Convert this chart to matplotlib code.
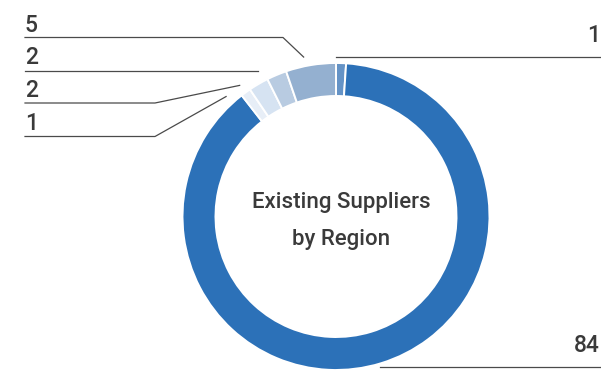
import numpy as np
import matplotlib.pyplot as plt

# Supplier counts, clockwise from 12 o'clock
values = [1, 84, 1, 2, 2, 5]
colors = ['#6593c6', '#2c71b8', '#e7eef7', '#d6e3f2', '#b8cbe1', '#94b0d0']
labels = ['1', '84', '1', '2', '2', '5']

W, H = 601, 371
cx, cy = 336, H - 216.5
R, ring = 153.5, 33

fig = plt.figure(figsize=(W / 100, H / 100), dpi=100)
ax = fig.add_axes([0, 0, 1, 1])

wedges, _ = ax.pie(values, colors=colors, startangle=90, counterclock=False,
                   center=(cx, cy), radius=R,
                   wedgeprops=dict(width=ring, edgecolor='white', linewidth=1.4))
ax.set_xlim(0, W)
ax.set_ylim(0, H)
ax.set_aspect('equal')
ax.axis('off')

txt = '#3a3a3a'
line = '#4a4a4a'
fs = 16.5
plt.rcParams['font.family'] = ['Roboto', 'DejaVu Sans']

def tip(w, nudge=0.0, r=1.06):
    a = np.deg2rad((w.theta1 + w.theta2) / 2 + nudge)
    return cx + R * r * np.cos(a), cy + R * r * np.sin(a)

# left-hand labels: (wedge index, label line y, elbow x, angle nudge)
left = [(5, H - 37.5, 283, 2.0), (4, H - 70.5, None, 6.0),
        (3, H - 103, 155, 6.0), (2, H - 136.5, 155, 6.5)]
for i, ly, ex, nudge in left:
    tx, ty = tip(wedges[i], nudge)
    if ex is None:
        ax.plot([25, tx], [ly, ly], color=line, lw=0.9)
    else:
        ax.plot([25, ex, tx], [ly, ly, ty], color=line, lw=0.9)
    ax.text(25, ly + 6, labels[i], ha='left', va='baseline', fontsize=fs,
            color=txt, fontweight='medium')

# right-hand labels
tx, ty = tip(wedges[0], 2.0, 1.035)
ax.plot([tx, W], [H - 57, H - 57], color=line, lw=0.9)
ax.text(600, H - 57 + 14.5, labels[0], ha='right', va='baseline', fontsize=fs,
        color=txt, fontweight='medium')

ax.plot([380, W], [H - 366.5, H - 366.5], color=line, lw=0.9)
ax.text(600, H - 366.5 + 14.5, labels[1], ha='right', va='baseline',
        fontsize=fs, color=txt, fontweight='medium')

# centre title
ax.text(341, H - 208, 'Existing Suppliers', ha='center', va='baseline',
        fontsize=16, color=txt, fontweight='medium')
ax.text(341, H - 245, 'by Region', ha='center', va='baseline',
        fontsize=16, color=txt, fontweight='medium')

fig.savefig('out.png', dpi=100)
